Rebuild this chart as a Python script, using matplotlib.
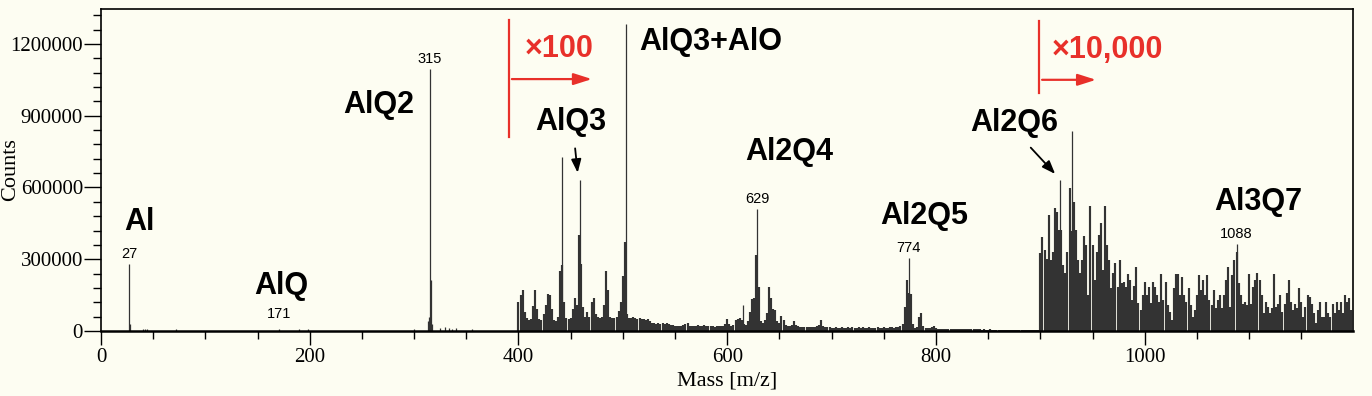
import matplotlib
matplotlib.use("Agg")

import numpy as np
import matplotlib.pyplot as plt
from matplotlib.ticker import MultipleLocator, FuncFormatter

# strong / isolated peaks (m/z, counts in thousands)
peak_mass = [27, 28, 40, 42, 44, 72, 171, 190, 198, 300, 313, 314, 315, 316, 317,
             325, 330, 333, 336, 340, 355,
             442, 459, 503, 615, 629, 774, 919, 930, 1088]
peak_counts = [279, 30, 8, 10, 8, 10, 9, 8, 10, 10, 40, 60, 1096, 213, 30,
               12, 15, 12, 10, 12, 8,
               729, 632, 1284, 107, 509, 304, 632, 838, 363]

# x100 region, every 2 m/z from 400 to 898 (counts in thousands)
mid_start = 400
mid_counts = [
    120, 150, 170, 80, 55, 45, 50, 105, 170, 90,
    50, 45, 70, 110, 155, 150, 90, 45, 40, 60,
    250, 275, 120, 55, 50, 55, 90, 140, 110, 400,
    280, 100, 60, 80, 60, 120, 140, 70, 60, 55,
    60, 110, 250, 170, 60, 55, 55, 60, 85, 120,
    230, 370, 70, 55, 55, 58, 55, 52, 55, 50,
    52, 48, 50, 40, 32, 33, 30, 32, 30, 33,
    30, 32, 28, 25, 24, 22, 20, 22, 20, 25,
    30, 35, 22, 20, 22, 20, 24, 22, 20, 25,
    22, 20, 22, 20, 18, 22, 20, 22, 20, 30,
    50, 30, 22, 25, 45, 50, 55, 45, 30, 25,
    40, 80, 135, 140, 318, 186, 40, 35, 45, 75,
    186, 140, 90, 88, 40, 35, 63, 45, 25, 22,
    20, 25, 43, 25, 20, 18, 18, 18, 17, 18,
    16, 18, 17, 20, 25, 45, 20, 16, 15, 15,
    14, 14, 15, 13, 14, 16, 14, 13, 15, 14,
    16, 14, 13, 15, 14, 15, 13, 14, 16, 14,
    13, 14, 15, 13, 14, 15, 13, 14, 15, 16,
    14, 15, 18, 20, 30, 100, 212, 160, 153, 30,
    12, 15, 60, 77, 20, 12, 14, 12, 15, 22,
    12, 10, 10, 10, 9, 10, 9, 9, 10, 9,
    8, 9, 8, 8, 9, 8, 7, 8, 7, 7,
    8, 7, 6, 7, 6, 6, 7, 6, 6, 5,
    6, 5, 6, 5, 5, 6, 5, 5, 6, 5,
    5, 6, 5, 5, 6, 5, 5, 5, 6, 5,
]

# x10,000 region, every 2 m/z from 900 to 1198 (counts in thousands)
high_start = 900
high_counts = [
    325, 392, 339, 300, 485, 297, 330, 513, 499, 423,
    423, 276, 241, 332, 597, 420, 541, 423, 297, 241,
    297, 397, 360, 151, 523, 360, 213, 332, 402, 450,
    255, 523, 360, 297, 179, 241, 283, 186, 297, 200,
    206, 186, 238, 213, 130, 190, 269, 116, 88, 151,
    206, 150, 186, 116, 206, 186, 151, 120, 238, 130,
    206, 110, 80, 46, 179, 238, 238, 150, 227, 150,
    120, 179, 110, 60, 88, 151, 234, 172, 213, 150,
    234, 130, 109, 172, 95, 130, 150, 95, 150, 213,
    269, 100, 234, 297, 332, 200, 150, 115, 120, 110,
    239, 115, 185, 213, 241, 213, 150, 74, 120, 100,
    74, 95, 239, 100, 115, 150, 80, 115, 158, 213,
    120, 88, 115, 95, 179, 120, 60, 100, 150, 144,
    115, 74, 32, 88, 123, 60, 60, 123, 74, 60,
    115, 74, 123, 88, 123, 74, 150, 123, 137, 88,
]

# labelled masses
num_labels = [27, 171, 315, 629, 774, 1088]

# species names: (text, m/z centre, counts centre)
species = [("Al", 37, 454000), ("AlQ", 173, 188000), ("AlQ2", 266, 946000),
           ("AlQ3", 450, 872000), ("AlQ3+AlO", 584, 1207000),
           ("Al2Q4", 659, 749000), ("Al2Q5", 789, 481000),
           ("Al2Q6", 875, 868000), ("Al3Q7", 1109, 538000)]

bg = "#fdfdf2"
bar_col = "#333333"
red = "#e8302a"

plt.rcParams["font.family"] = ["Liberation Serif", "DejaVu Serif"]
fig = plt.figure(figsize=(13.72, 3.96), dpi=100, facecolor=bg)
ax = fig.add_axes([0.0736, 0.1641, 0.9125, 0.8132], facecolor=bg)

mid_mass = mid_start + 2 * np.arange(len(mid_counts))
high_mass = high_start + 2 * np.arange(len(high_counts))
ax.vlines(mid_mass, 0, np.array(mid_counts) * 1000, colors=bar_col, linewidth=1.55)
ax.vlines(high_mass, 0, np.array(high_counts) * 1000, colors=bar_col, linewidth=1.55)
ax.vlines(peak_mass, 0, np.array(peak_counts) * 1000, colors=bar_col, linewidth=0.9)

# small numeric labels over peaks
lookup = dict(zip(peak_mass, peak_counts))
for m in num_labels:
    h = lookup[m] * 1000
    y = 40000 if h < 30000 else h + 12000
    ax.text(m, y, str(m), ha="center", va="bottom", fontsize=10.5,
            family="Liberation Sans")

for txt, x, y in species:
    ax.text(x, y, txt, ha="center", va="center", fontsize=22, fontweight="bold",
            family="Liberation Sans")

# arrows to AlQ3 and Al2Q6
arrow_kw = dict(arrowstyle="-|>,head_length=0.8,head_width=0.3", color="black", lw=1.3)
ax.annotate("", xy=(457, 650000), xytext=(454, 775000), arrowprops=arrow_kw)
ax.annotate("", xy=(916, 648000), xytext=(889, 775000), arrowprops=arrow_kw)

# red magnification markers
red_kw = dict(arrowstyle="-|>,head_length=1.1,head_width=0.35", color=red, lw=1.6)
ax.plot([391, 391], [813000, 1298000], color=red, lw=1.6)
ax.annotate("", xy=(473, 1053000), xytext=(391, 1053000), arrowprops=red_kw)
ax.text(406, 1180000, "\u00d7100", color=red, fontsize=22, fontweight="bold",
        va="center", ha="left", family="Liberation Sans")
ax.plot([899, 899], [994000, 1294000], color=red, lw=1.6)
ax.annotate("", xy=(956, 1050000), xytext=(899, 1050000), arrowprops=red_kw)
ax.text(911, 1175000, "\u00d710,000", color=red, fontsize=22, fontweight="bold",
        va="center", ha="left", family="Liberation Sans")

ax.set_xlim(0, 1199.5)
ax.set_ylim(0, 1346000)
ax.xaxis.set_major_locator(MultipleLocator(200))
ax.xaxis.set_minor_locator(MultipleLocator(50))
ax.yaxis.set_major_locator(MultipleLocator(300000))
ax.yaxis.set_minor_locator(MultipleLocator(60000))
ax.yaxis.set_major_formatter(FuncFormatter(lambda v, p: "%d" % v))
ax.tick_params(which="major", direction="out", length=10, width=1, labelsize=15, pad=2)
ax.tick_params(which="minor", direction="out", length=6, width=1)
ax.tick_params(axis="y", which="major", length=12, pad=1)

for s in ax.spines.values():
    s.set_linewidth(1.2)
ax.spines["bottom"].set_linewidth(1.8)

ax.set_xlabel("Mass [m/z]", fontsize=16, va="center")
ax.set_ylabel("Counts", fontsize=16, va="center")
ax.xaxis.set_label_coords(0.5, -0.155)
ax.yaxis.set_label_coords(-0.072, 0.5)

plt.savefig("out.png", dpi=100, facecolor=bg)
plt.close()
